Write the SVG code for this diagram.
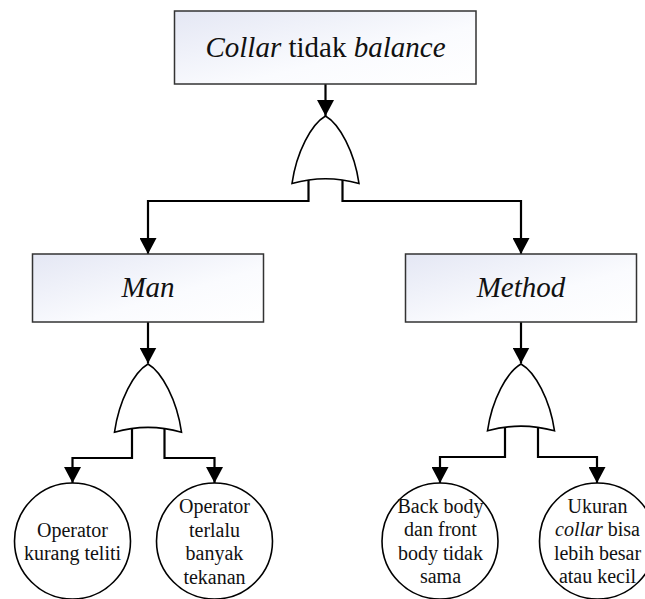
<svg xmlns="http://www.w3.org/2000/svg" width="645" height="599" viewBox="0 0 645 599">
<defs>
<linearGradient id="boxfill" x1="0" y1="0" x2="1" y2="1">
<stop offset="0" stop-color="#e4e7f4"/>
<stop offset="0.6" stop-color="#fafbfe"/>
<stop offset="1" stop-color="#ffffff"/>
</linearGradient>
<marker id="arr" markerUnits="userSpaceOnUse" viewBox="0 0 16 17" markerWidth="16" markerHeight="17" refX="16" refY="8.5" orient="auto">
<path d="M0,0 L16,8.5 L0,17 Z" fill="#000"/>
</marker>
<path id="gate" d="M0,0 C-14,8 -29,36 -33.5,67.5 Q0,58 33.5,67.5 C29,36 14,8 0,0 Z"/>
</defs>
<style>
.box{fill:url(#boxfill);stroke:#333;stroke-width:1.5}
.gate{fill:#fff;stroke:#000;stroke-width:1.6}
.circ{fill:#fff;stroke:#000;stroke-width:1.6}
.conn{fill:none;stroke:#000;stroke-width:2.2}
.t{font-family:"Liberation Serif","Times New Roman",serif;fill:#111;text-anchor:middle}
.big{font-size:29px}
.small{font-size:20px}
.i{font-style:italic}
</style>
<rect width="645" height="599" fill="#fff"/>

<g id="connectors">
<path class="conn" d="M325.5,84 V116" marker-end="url(#arr)"/>
<path class="conn" d="M308.5,178 V201 H148 V254" marker-end="url(#arr)"/>
<path class="conn" d="M342.5,178 V201 H521 V254" marker-end="url(#arr)"/>
<path class="conn" d="M148,322 V363.5" marker-end="url(#arr)"/>
<path class="conn" d="M521,322 V363.5" marker-end="url(#arr)"/>
<path class="conn" d="M132,427 V458 H72.5 V483" marker-end="url(#arr)"/>
<path class="conn" d="M164.5,427 V458 H214.5 V483" marker-end="url(#arr)"/>
<path class="conn" d="M505,427 V457 H440 V483" marker-end="url(#arr)"/>
<path class="conn" d="M538,427 V457 H597 V483" marker-end="url(#arr)"/>
</g>

<g id="top">
<rect class="box" x="174.5" y="11" width="301.5" height="73"/>
<text class="t big" x="325.5" y="57"><tspan class="i">Collar</tspan> tidak <tspan class="i">balance</tspan></text>
</g>
<g id="gate-top">
<use href="#gate" class="gate" transform="translate(325.5,116)"/>
</g>

<g id="man">
<rect class="box" x="32.5" y="254" width="231" height="68"/>
<text class="t big i" x="148" y="297">Man</text>
</g>
<g id="method">
<rect class="box" x="405.5" y="254" width="231" height="68"/>
<text class="t big i" x="521" y="297">Method</text>
</g>

<g id="gate-man">
<use href="#gate" class="gate" transform="translate(148,364) scale(1,1.01)"/>
</g>
<g id="gate-method">
<use href="#gate" class="gate" transform="translate(521,364) scale(1,0.99)"/>
</g>

<g id="e1">
<circle class="circ" cx="72.5" cy="541" r="58"/>
<text class="t small" x="72.5" y="536.5">Operator</text>
<text class="t small" x="72.5" y="560">kurang teliti</text>
</g>
<g id="e2">
<circle class="circ" cx="214.5" cy="541" r="58"/>
<text class="t small" x="214.5" y="513">Operator</text>
<text class="t small" x="214.5" y="536.5">terlalu</text>
<text class="t small" x="214.5" y="560">banyak</text>
<text class="t small" x="214.5" y="583.5">tekanan</text>
</g>
<g id="e3">
<circle class="circ" cx="440" cy="541" r="58"/>
<text class="t small" x="440.5" y="512.5">Back body</text>
<text class="t small" x="440.5" y="536">dan front</text>
<text class="t small" x="440.5" y="559.5">body tidak</text>
<text class="t small" x="440.5" y="583">sama</text>
</g>
<g id="e4">
<circle class="circ" cx="597.5" cy="541" r="58"/>
<text class="t small" x="597.5" y="512.5">Ukuran</text>
<text class="t small" x="597.5" y="536"><tspan class="i">collar</tspan> bisa</text>
<text class="t small" x="597.5" y="559.5">lebih besar</text>
<text class="t small" x="597.5" y="583">atau kecil</text>
</g>
</svg>
